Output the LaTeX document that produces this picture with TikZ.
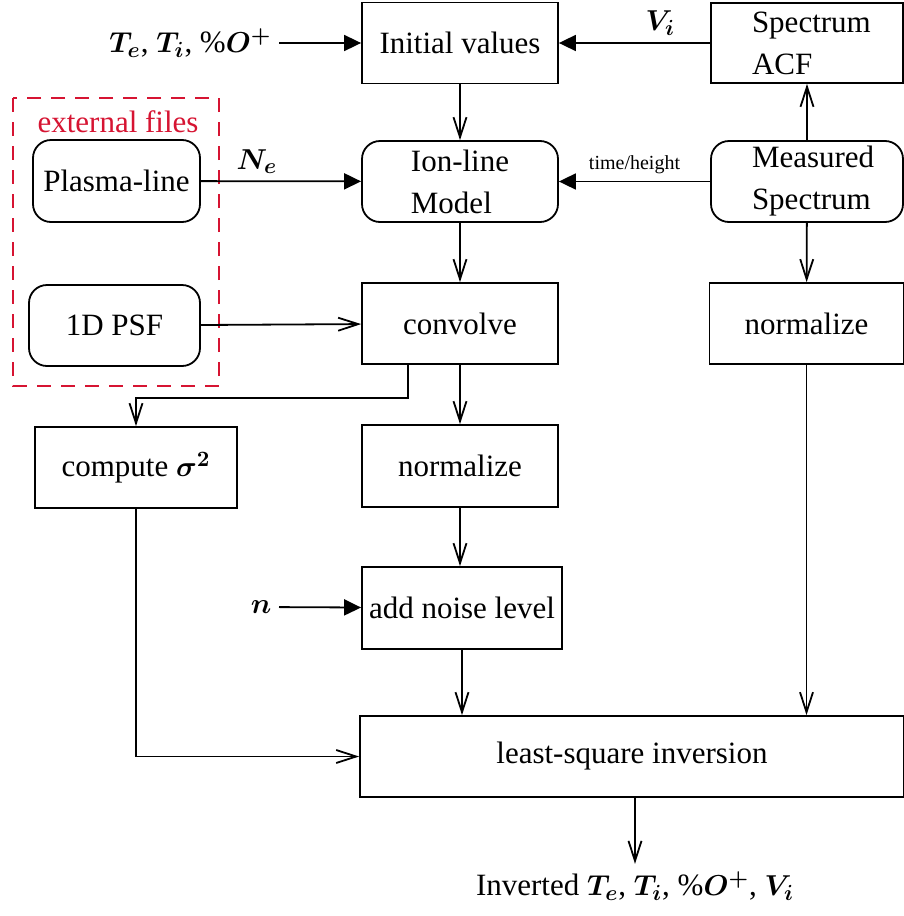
\documentclass[tikz,border=0pt]{standalone}
\usepackage{fontspec}
\setmainfont{Liberation Serif}
\usetikzlibrary{arrows.meta}

\begin{document}
\begin{tikzpicture}[x=0.5pt, y=-0.5pt,
    font=\fontsize{15.5}{21}\selectfont\boldmath,
    line width=0.9pt,
    box/.style={draw, rectangle, inner sep=0pt, align=left},
    rbox/.style={box, rounded corners=9pt},
    fill arrow/.style={-{Triangle[length=8.5pt, width=8pt]}},
    open arrow/.style={-{Straight Barb[length=10pt, width=6.5pt]}}]

    % Define custom colors
    \definecolor{extred}{RGB}{214, 20, 50}

    \useasboundingbox (0,0) rectangle (904,916);

    % 1. External files (dashed frame)
    \draw[extred, dashed, dash pattern=on 7pt off 5pt] (13,98) rectangle (219,386);
    \node[extred, anchor=west] (extlabel) at (30,122) {external files};
    \node[rbox, minimum width=83.5pt, minimum height=41pt] (plasma) at (116.5,181) {Plasma-line};
    \node[rbox, minimum width=85.5pt, minimum height=40.5pt] (psf) at (114.5,325.5) {1D PSF};

    % 2. Middle column
    \node[box, minimum width=98pt, minimum height=40.5pt] (init) at (460,43) {Initial values};
    \node[rbox, minimum width=98pt, minimum height=40.5pt] (ionmodel) at (460,181.5) {Ion-line\\Model};
    \node[box, minimum width=98pt, minimum height=40.5pt] (convolve) at (460,323.5) {convolve};
    \node[box, minimum width=98pt, minimum height=41pt] (normM) at (460,466) {normalize};
    \node[box, minimum width=100pt, minimum height=41pt] (noise) at (462,608) {add noise level};

    % 3. Right column
    \node[box, minimum width=96pt, minimum height=40pt, text width=55pt,
          inner xsep=20.5pt] (acf) at (807,43) {Spectrum\\ACF};
    \node[rbox, minimum width=96pt, minimum height=40.5pt, text width=55pt,
          inner xsep=20.5pt] (measured) at (807,181.5) {Measured\\Spectrum};
    \node[box, minimum width=97pt, minimum height=40.5pt] (normR) at (806.5,323.5) {normalize};

    % 4. Left and bottom
    \node[box, minimum width=101pt, minimum height=40.5pt] (sigma) at (136,467.5) {compute $\sigma^2$};
    \node[box, minimum width=272pt, minimum height=40.5pt] (lsq) at (632,756.5) {least-square inversion};
    \node (out) at (635,886) {Inverted $T_e$, $T_i$, \%$O^+$, $V_i$};

    % 5. Inputs
    \node[anchor=east] (inTe) at (279,43) {$T_e$, $T_i$, \%$O^+$};
    \node[anchor=east] (inN) at (279,607) {$n$};

    % 6. Connectors
    \draw[fill arrow] (inTe) -- (init);
    \draw[fill arrow] (acf) -- node[above, pos=0.33] {$V_i$} (init);
    \draw[open arrow] (init) -- (ionmodel);
    \draw[fill arrow] (plasma) -- node[above, pos=0.35] {$N_e$} (ionmodel);
    \draw[fill arrow] (measured) -- node[above, font=\fontsize{10}{12}\selectfont] {time/height} (ionmodel);
    \draw[open arrow] (measured) -- (acf);
    \draw[open arrow] (ionmodel) -- (convolve);
    \draw[open arrow] (psf) -- (convolve);
    \draw[open arrow] (measured) -- (normR);
    \draw[open arrow] ([xshift=-26pt]convolve.south) -- ++(0,33) -| (sigma.north);
    \draw[open arrow] (convolve) -- (normM);
    \draw[open arrow] (normM.south) -- (normM.south |- noise.north);
    \draw[fill arrow] (inN) -- (noise);
    \draw[open arrow] (noise.south) -- (noise.south |- lsq.north);
    \draw[open arrow] (normR.south) -- (normR.south |- lsq.north);
    \draw[open arrow] (sigma.south) |- (lsq.west);
    \draw[open arrow] (lsq.south -| out.north) -- (out.north);

\end{tikzpicture}
\end{document}
